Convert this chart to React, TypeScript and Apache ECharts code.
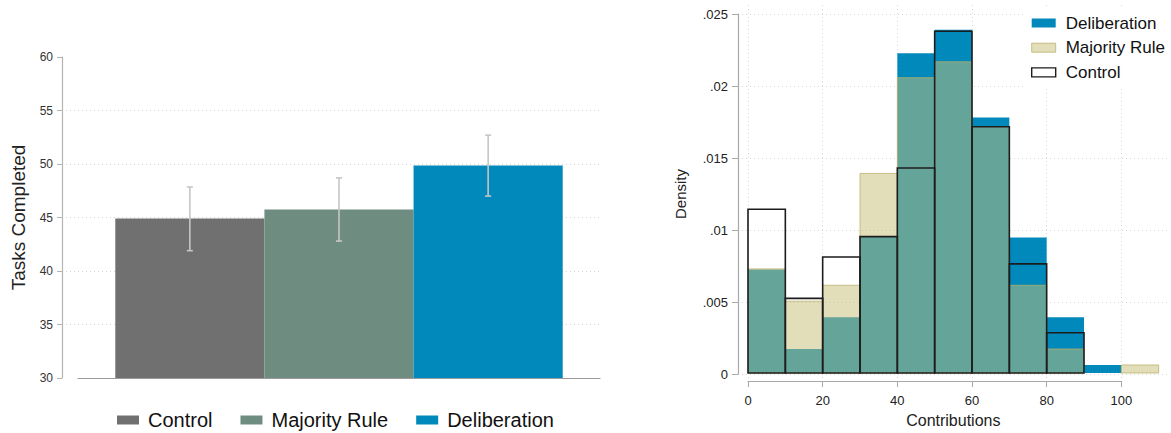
import React, { useEffect, useRef } from "react";
import * as echarts from "echarts";

// ---- Left panel: mean tasks completed by treatment, with CIs ----
const groups = ["Control", "Majority Rule", "Deliberation"];
const meanTasks = [44.9, 45.75, 49.85];
const ciLow = [41.9, 42.8, 47.0];
const ciHigh = [47.85, 48.7, 52.7];
const groupColors = ["#707070", "#6e8c80", "#0289bc"];
const leftYMin = 30;
const leftYMax = 60;
const leftYStep = 5;

// ---- Right panel: histogram of contributions (density, bin width 10) ----
const binStarts = [0, 10, 20, 30, 40, 50, 60, 70, 80, 90, 100];
const binWidth = 10;
const densDeliberation = [0.0072, 0.00167, 0.00389, 0.0095, 0.02227, 0.0239, 0.0178, 0.00944, 0.00389, 0.00056, 0];
const densMajority = [0.00725, 0.005, 0.00611, 0.0139, 0.02056, 0.02167, 0.01715, 0.00611, 0.00167, 0, 0.00056];
const densControl = [0.0114, 0.0052, 0.00808, 0.0095, 0.01428, 0.0238, 0.01715, 0.0076, 0.0028, 0, 0];
const histNames = ["Deliberation", "Majority Rule", "Control"];
const HIST_SUFFIX = " (density)";

const FONT = "'Liberation Sans', Arial, Helvetica, sans-serif";

export default function App() {
  const ref = useRef<HTMLDivElement>(null);

  useEffect(() => {
    document.body.style.margin = "0";
    if (!ref.current) return;
    const chart = echarts.init(ref.current, null, { renderer: "svg" });

    const barSeries = groups.map((g, i) => ({
      type: "custom",
      name: g,
      xAxisIndex: 1,
      yAxisIndex: 1,
      itemStyle: { color: groupColors[i] },
      encode: { x: 0, y: 1 },
      data: [[i, meanTasks[i], ciLow[i], ciHigh[i]]],
      renderItem: (params: any, api: any) => {
        const idx = api.value(0);
        const mean = api.value(1);
        const lo = api.value(2);
        const hi = api.value(3);
        const tl = api.coord([idx, mean]);
        const br = api.coord([idx + 1, leftYMin]);
        const cx = api.coord([idx + 0.5, hi])[0];
        const yHi = api.coord([idx + 0.5, hi])[1];
        const yLo = api.coord([idx + 0.5, lo])[1];
        const eb = { stroke: "#c6c6c6", lineWidth: 1.6 };
        return {
          type: "group",
          children: [
            {
              type: "rect",
              shape: { x: tl[0], y: tl[1], width: br[0] - tl[0], height: br[1] - tl[1] },
              style: { fill: groupColors[i] },
            },
            { type: "line", shape: { x1: cx, y1: yHi, x2: cx, y2: yLo }, style: eb },
            { type: "line", shape: { x1: cx - 3, y1: yHi, x2: cx + 3, y2: yHi }, style: eb },
            { type: "line", shape: { x1: cx - 3, y1: yLo, x2: cx + 3, y2: yLo }, style: eb },
          ],
        };
      },
    }));

    const histStyles: any[] = [
      { fill: "#0289bc" },
      { fill: "rgba(198,190,120,0.51)", stroke: "rgba(185,175,100,0.75)", lineWidth: 1 },
      { fill: "none", stroke: "#1c1c1c", lineWidth: 1.6 },
    ];
    const histData = [densDeliberation, densMajority, densControl];
    const histSeries = histNames.map((n, k) => ({
      type: "custom",
      name: n + HIST_SUFFIX,
      xAxisIndex: 4,
      yAxisIndex: 4,
      encode: { x: [0, 1], y: 2 },
      data: binStarts.map((s, i) => [s, s + binWidth, histData[k][i]]),
      renderItem: (params: any, api: any) => {
        const d = api.value(2);
        if (!d) return null;
        const p0 = api.coord([api.value(0), d]);
        const p1 = api.coord([api.value(1), 0]);
        return {
          type: "rect",
          shape: { x: p0[0], y: p0[1], width: p1[0] - p0[0], height: p1[1] - p0[1] },
          style: histStyles[k],
        };
      },
    }));

    const hiddenAxis = (gi: number, min: number, max: number) => ({
      type: "value",
      gridIndex: gi,
      min,
      max,
      show: false,
    });

    chart.setOption({
      animation: false,
      textStyle: { fontFamily: FONT },
      grid: [
        { left: 62, top: 57, width: 538, height: 321 },
        { left: 78, top: 57, width: 522, height: 321 },
        { left: 738, top: 14, width: 429, height: 360 },
        { left: 748, top: 5, width: 373.33, height: 376 },
        { left: 748, top: 14, width: 410.67, height: 360 },
      ],
      xAxis: [
        hiddenAxis(0, 0, 1),
        {
          type: "value",
          gridIndex: 1,
          min: -0.25,
          max: 3.25,
          axisLine: { show: true, lineStyle: { color: "#9a9a9a", width: 1.2 } },
          axisTick: { show: false },
          axisLabel: { show: false },
          splitLine: { show: false },
        },
        hiddenAxis(2, 0, 1),
        {
          type: "value",
          gridIndex: 3,
          min: 0,
          max: 100,
          interval: 20,
          position: "bottom",
          offset: 3,
          axisLine: { show: true, lineStyle: { color: "#a8a8a8", width: 1.2 } },
          axisTick: { show: true, length: 6, lineStyle: { color: "#a8a8a8" } },
          axisLabel: { fontSize: 13, color: "#222", margin: 10, fontFamily: FONT },
          splitLine: { show: true, lineStyle: { color: "#d6d6d6", type: [1, 3], width: 1 } },
        },
        {
          type: "value",
          gridIndex: 4,
          min: 0,
          max: 110,
          name: "Contributions",
          nameLocation: "middle",
          nameGap: 39,
          nameTextStyle: { fontSize: 16, color: "#222", fontFamily: FONT },
          axisLine: { show: false },
          axisTick: { show: false },
          axisLabel: { show: false },
          splitLine: { show: false },
        },
      ],
      yAxis: [
        {
          type: "value",
          gridIndex: 0,
          min: leftYMin,
          max: leftYMax,
          interval: leftYStep,
          name: "Tasks Completed",
          nameLocation: "middle",
          nameGap: 34,
          nameTextStyle: { fontSize: 19, color: "#222", fontFamily: FONT },
          axisLine: { show: true, lineStyle: { color: "#b4b4b4", width: 1.2 } },
          axisTick: { show: true, length: 5, lineStyle: { color: "#b4b4b4" } },
          axisLabel: { fontSize: 12, color: "#333", margin: 9, fontFamily: FONT },
          splitLine: {
            show: true,
            showMinLine: false,
            showMaxLine: false,
            lineStyle: { color: "#d4d4d4", type: [1, 3], width: 1 },
          },
        },
        hiddenAxis(1, leftYMin, leftYMax),
        {
          type: "value",
          gridIndex: 2,
          min: 0,
          max: 0.025,
          interval: 0.005,
          name: "Density",
          nameLocation: "middle",
          nameGap: 50,
          nameTextStyle: { fontSize: 15, color: "#222", fontFamily: FONT },
          axisLine: { show: true, lineStyle: { color: "#a8a8a8", width: 1.2 } },
          axisTick: { show: true, length: 6, lineStyle: { color: "#a8a8a8" } },
          axisLabel: {
            fontSize: 13,
            color: "#222",
            margin: 10,
            fontFamily: FONT,
            formatter: (v: number) => (v === 0 ? "0" : String(+v.toFixed(4)).replace(/^0/, "")),
          },
          splitLine: { show: true, lineStyle: { color: "#d6d6d6", type: [1, 3], width: 1 } },
        },
        hiddenAxis(3, 0, 1),
        hiddenAxis(4, 0, 0.025),
      ],
      legend: [
        {
          left: 117,
          top: 410,
          padding: 0,
          icon: "rect",
          itemWidth: 22,
          itemHeight: 9,
          itemGap: 28,
          selectedMode: false,
          textStyle: { fontSize: 20, color: "#111", lineHeight: 20, padding: [0, 0, 0, 4], fontFamily: FONT },
          data: groups.map((g, i) => ({ name: g, itemStyle: { color: groupColors[i], borderWidth: 0 } })),
        },
        {
          left: 1023,
          top: 6,
          orient: "vertical",
          padding: [7, 14, 6, 8],
          backgroundColor: "#ffffff",
          icon: "rect",
          itemWidth: 24,
          itemHeight: 9,
          itemGap: 4.7,
          selectedMode: false,
          formatter: (n: string) => n.replace(HIST_SUFFIX, ""),
          textStyle: { fontSize: 17, color: "#111", lineHeight: 20, padding: [0, 0, 0, 5], fontFamily: FONT },
          data: [
            { name: histNames[0] + HIST_SUFFIX, itemStyle: { color: "#0289bc", borderWidth: 0 } },
            {
              name: histNames[1] + HIST_SUFFIX,
              itemStyle: { color: "rgba(198,190,120,0.51)", borderColor: "rgba(185,175,100,0.75)", borderWidth: 1 },
            },
            { name: histNames[2] + HIST_SUFFIX, itemStyle: { color: "#ffffff", borderColor: "#1c1c1c", borderWidth: 1.4 } },
          ],
        },
      ],
      series: [...barSeries, ...histSeries],
    });

    return () => chart.dispose();
  }, []);

  return <div ref={ref} style={{ width: 1171, height: 433 }} />;
}
